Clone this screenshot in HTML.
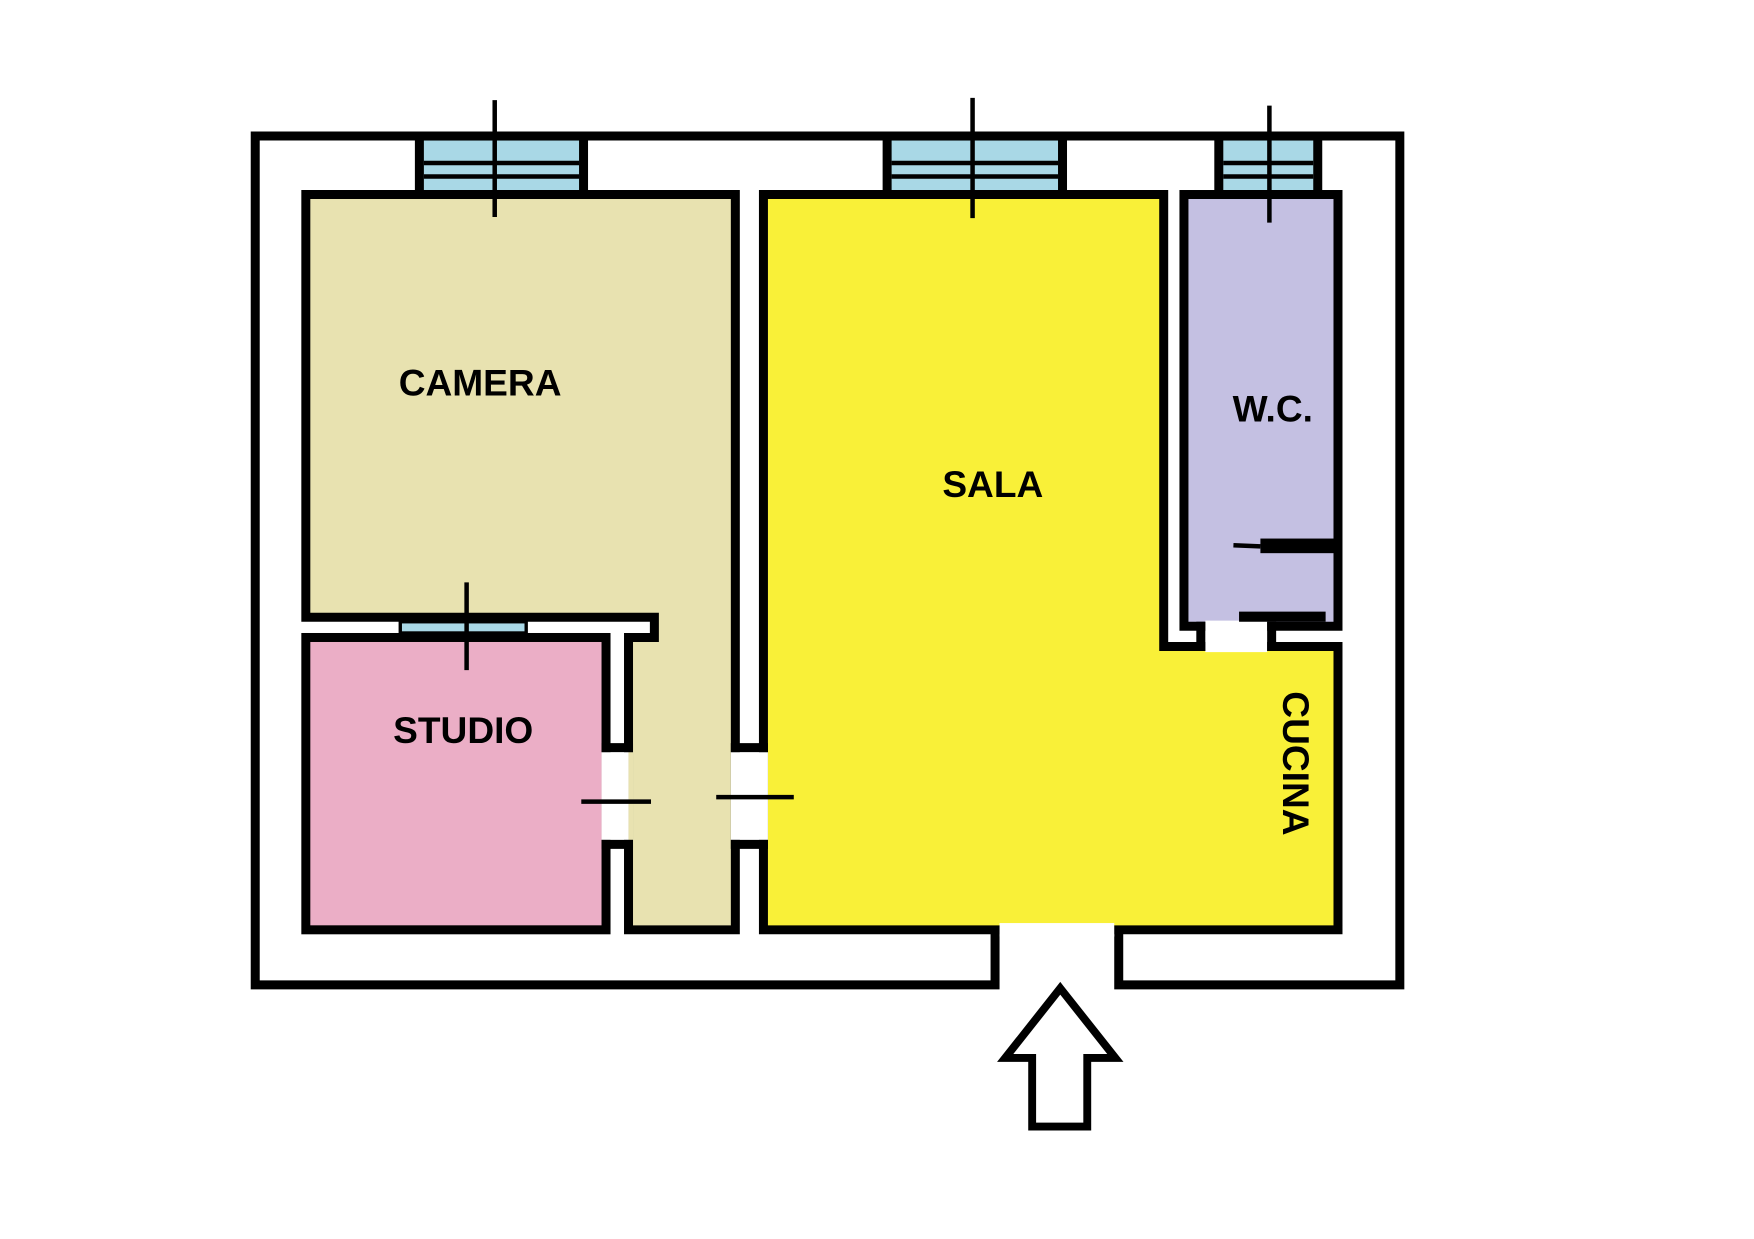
<!DOCTYPE html>
<html><head><meta charset="utf-8"><style>
html,body{margin:0;padding:0;background:#fff;}
svg{display:block;}
text{font-family:"Liberation Sans",sans-serif;font-weight:bold;fill:#000;}
</style></head><body>
<svg width="1754" height="1239" viewBox="0 0 1560 1102" preserveAspectRatio="none" xmlns="http://www.w3.org/2000/svg">
<rect width="1560" height="1102" fill="#fff"/>
<g transform="translate(-3,-3)">
<g stroke="#000" stroke-width="8" stroke-linejoin="miter">
<path d="M888,830 L888,879 L230,879 L230,124 L1248,124 L1248,879 L998,879 L998,830" fill="none"/>
<rect x="376" y="124" width="146" height="52" fill="#a9d8e6"/>
<rect x="792" y="124" width="156" height="52" fill="#a9d8e6"/>
<rect x="1087" y="124" width="88" height="52" fill="#a9d8e6"/>
<path d="M275,176 L657,176 L657,830 L562,830 L562,570 L585,570 L585,552 L275,552 Z" fill="#e8e2b0"/>
<rect x="275" y="570" width="267" height="260" fill="#ebaec6"/>
<path d="M682,176 L1038,176 L1038,578 L1193,578 L1193,830 L682,830 Z" fill="#f9f038"/>
<rect x="1056" y="176" width="137" height="384" fill="#c4c0e2"/>
</g>
<g stroke="#000" stroke-width="4">
<line x1="380" y1="148" x2="518" y2="148"/><line x1="380" y1="160" x2="518" y2="160"/>
<line x1="796" y1="148" x2="944" y2="148"/><line x1="796" y1="160" x2="944" y2="160"/>
<line x1="1091" y1="148" x2="1171" y2="148"/><line x1="1091" y1="160" x2="1171" y2="160"/>
</g>
<rect x="359" y="556" width="112" height="10" fill="#a9d8e6" stroke="#000" stroke-width="3"/>
<rect x="538" y="672" width="24" height="78" fill="#fff"/>
<rect x="562" y="672" width="4" height="78" fill="#e8e2b0"/>
<rect x="653" y="672" width="33" height="78" fill="#fff"/>
<rect x="892" y="824" width="102" height="12" fill="#fff"/>
<rect x="1075" y="555" width="55" height="28" fill="#fff"/>
<g stroke="#000" stroke-width="8">
<line x1="538" y1="668" x2="566" y2="668"/><line x1="538" y1="754" x2="566" y2="754"/>
<line x1="653" y1="668" x2="686" y2="668"/><line x1="653" y1="754" x2="686" y2="754"/>
<line x1="1071" y1="556" x2="1071" y2="582"/><line x1="1134" y1="556" x2="1134" y2="582"/>
</g>
<g stroke="#000" stroke-width="4">
<line x1="520" y1="716" x2="582" y2="716"/>
<line x1="640" y1="712" x2="709" y2="712"/>
<line x1="443" y1="92" x2="443" y2="196"/>
<line x1="868" y1="90" x2="868" y2="197"/>
<line x1="1132" y1="97" x2="1132" y2="201"/>
<line x1="418" y1="521" x2="418" y2="599"/>
<line x1="1100" y1="488" x2="1124" y2="489"/>
</g>
<rect x="1124" y="482" width="66" height="13" fill="#000"/>
<rect x="1105" y="547" width="77" height="9" fill="#000"/>
<polygon points="946,882 995,944 970,944 970,1005 921,1005 921,944 897,944" fill="#fff" stroke="#000" stroke-width="7"/>
<text x="430" y="355" font-size="33" text-anchor="middle">CAMERA</text>
<text x="886" y="445" font-size="33" text-anchor="middle">SALA</text>
<text x="1135" y="378" font-size="33" text-anchor="middle">W.C.</text>
<text x="415" y="664" font-size="33" text-anchor="middle">STUDIO</text>
<text x="0" y="0" font-size="33" text-anchor="middle" transform="translate(1144,682) rotate(90)">CUCINA</text>
</g>
</svg>
</body></html>
